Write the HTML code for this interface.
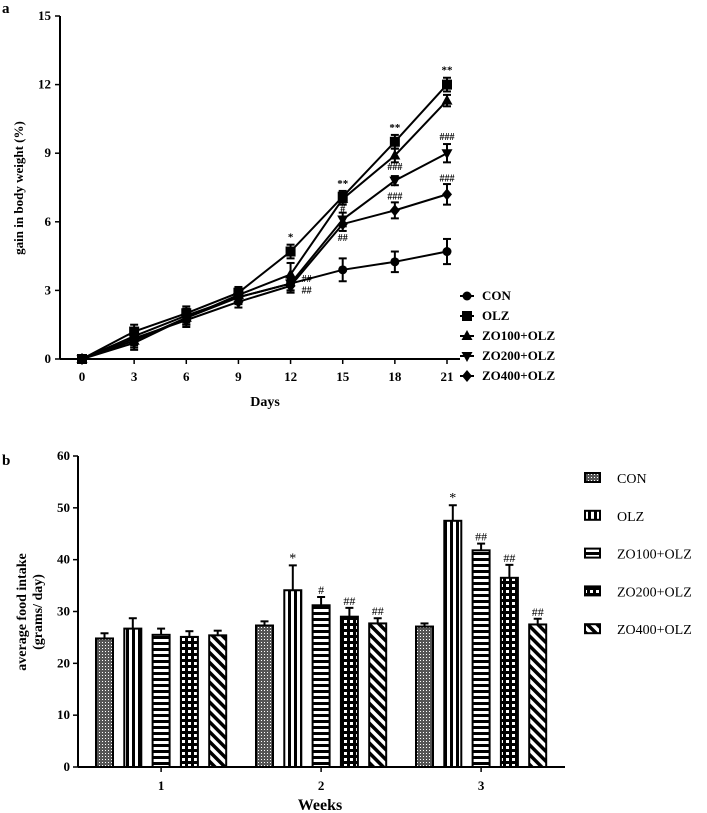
<!DOCTYPE html>
<html><head><meta charset="utf-8"><style>
html,body{margin:0;padding:0;background:#fff}
svg{display:block;font-family:"Liberation Serif",serif;font-weight:bold}
</style></head><body>
<svg id="fig" width="707" height="813" viewBox="0 0 707 813" xmlns="http://www.w3.org/2000/svg">
<defs>
<pattern id="pDot" width="3" height="3" patternUnits="userSpaceOnUse"><rect width="3" height="3" fill="#555"/><rect width="1" height="1" fill="#fff"/></pattern>
<pattern id="pVert" width="6" height="6" patternUnits="userSpaceOnUse"><rect width="6" height="6" fill="#fff"/><rect x="0" width="3" height="6" fill="#000"/></pattern>
<pattern id="pHor" width="6" height="6" patternUnits="userSpaceOnUse"><rect width="6" height="6" fill="#fff"/><rect y="0" width="6" height="3" fill="#000"/></pattern>
<pattern id="pGrid" width="6" height="6" patternUnits="userSpaceOnUse"><rect width="6" height="6" fill="#000"/><rect x="2" y="2" width="3" height="3" fill="#fff"/></pattern>
<pattern id="pDiag" width="7" height="7" patternUnits="userSpaceOnUse" patternTransform="rotate(-45)"><rect width="7" height="7" fill="#fff"/><rect width="3.5" height="7" fill="#000"/></pattern>
</defs>
<text x="2" y="13" font-size="15">a</text>
<text x="2" y="465" font-size="15">b</text>
<g id="topPanel"></g>
<g id="botPanel"></g>
</svg>
<script>
const NS="http://www.w3.org/2000/svg";
function mk(parent,tag,attrs,txt){const e=document.createElementNS(NS,tag);for(const k in attrs)e.setAttribute(k,attrs[k]);if(txt!==undefined)e.textContent=txt;parent.appendChild(e);return e;}

// ---- Panel a data ----
const days=[0,3,6,9,12,15,18,21];
const seriesNames=["CON","OLZ","ZO100+OLZ","ZO200+OLZ","ZO400+OLZ"];
const conVals=[0,1.0,1.9,2.7,3.3,3.9,4.25,4.7];
const olzVals=[0,1.2,2.0,2.9,4.7,7.1,9.5,12.0];
const zo100Vals=[0,0.8,1.8,2.8,3.7,7.0,8.9,11.3];
const zo200Vals=[0,0.7,1.8,2.7,3.3,6.1,7.8,9.0];
const zo400Vals=[0,0.9,1.7,2.5,3.2,5.9,6.5,7.2];
const conErr=[0.1,0.3,0.3,0.3,0.3,0.5,0.45,0.55];
const olzErr=[0.1,0.3,0.3,0.25,0.3,0.25,0.3,0.3];
const zo100Err=[0.1,0.3,0.3,0.25,0.5,0.25,0.3,0.25];
const zo200Err=[0.1,0.3,0.3,0.25,0.3,0.3,0.2,0.4];
const zo400Err=[0.1,0.3,0.3,0.25,0.3,0.3,0.35,0.45];
const yTicksA=[0,3,6,9,12,15];
const annA=[["*",12,olzVals,olzErr],["**",15,olzVals,olzErr],["**",18,olzVals,olzErr],["**",21,olzVals,olzErr]];

const xA=d=>82+d*(365/21);
const yA=v=>359-v*(343/15);
const gTop=document.getElementById('topPanel');
let ax=mk(gTop,'line',{x1:60,y1:16,x2:60,y2:359,stroke:'#000','stroke-width':2});

ax=mk(gTop,'line',{x1:60,y1:359,x2:460,y2:359,stroke:'#000','stroke-width':2});

yTicksA.forEach(t=>{mk(gTop,'line',{x1:55,x2:60,y1:yA(t),y2:yA(t),stroke:'#000','stroke-width':1.5});
 const l=mk(gTop,'text',{x:51,y:yA(t)+4,'font-size':13,'text-anchor':'end'},t);
 });
days.forEach(d=>{mk(gTop,'line',{x1:xA(d),x2:xA(d),y1:359,y2:364,stroke:'#000','stroke-width':1.5});
 const l=mk(gTop,'text',{x:xA(d),y:381,'font-size':13,'text-anchor':'middle'},d);
 });
let tt=mk(gTop,'text',{x:265,y:406,'font-size':14,'text-anchor':'middle'},'Days');

tt=mk(gTop,'text',{x:0,y:0,'font-size':13,'text-anchor':'middle',transform:'translate(23,188) rotate(-90)'},'gain in body weight (%)');


function marker(g,type,x,y){
 const s=5;
 if(type==='circle')return mk(g,'circle',{cx:x,cy:y,r:4.5});
 if(type==='square')return mk(g,'rect',{x:x-s,y:y-s,width:2*s,height:2*s});
 if(type==='up')return mk(g,'polygon',{points:`${x},${y-6} ${x-5.5},${y+4} ${x+5.5},${y+4}`});
 if(type==='down')return mk(g,'polygon',{points:`${x},${y+6} ${x-5.5},${y-4} ${x+5.5},${y-4}`});
 return mk(g,'polygon',{points:`${x},${y-6} ${x+5},${y} ${x},${y+6} ${x-5},${y}`});
}
const allVals=[conVals,olzVals,zo100Vals,zo200Vals,zo400Vals];
const allErr=[conErr,olzErr,zo100Err,zo200Err,zo400Err];
const mTypes=['circle','square','up','down','diamond'];
allVals.forEach((vals,si)=>{
 const g=mk(gTop,'g',{fill:'#000'});
 
 
 mk(g,'polyline',{points:vals.map((v,i)=>xA(days[i])+','+yA(v)).join(' '),fill:'none',stroke:'#000','stroke-width':2});
 vals.forEach((v,i)=>{const x=xA(days[i]),e=allErr[si][i];
  mk(g,'line',{x1:x,x2:x,y1:yA(v-e),y2:yA(v+e),stroke:'#000','stroke-width':2});
  mk(g,'line',{x1:x-4,x2:x+4,y1:yA(v-e),y2:yA(v-e),stroke:'#000','stroke-width':2});
  mk(g,'line',{x1:x-4,x2:x+4,y1:yA(v+e),y2:yA(v+e),stroke:'#000','stroke-width':2});
  const m=marker(g,mTypes[si],x,yA(v));
  
  
 });
});
annA.forEach(a=>{const i=days.indexOf(a[1]);const l=mk(gTop,'text',{x:xA(a[1]),y:yA(a[2][i]+a[3][i])-4,'font-size':11,'text-anchor':'middle'},a[0]);
 
 });
const hashA=[["#",15,6.55,0],["##",15,5.3,0],["###",18,8.4,0],["###",18,7.1,0],["###",21,9.7,0],["###",21,7.9,0],["##",12,3.5,1],["##",12,3.0,1]];
hashA.forEach(a=>{const l=mk(gTop,'text',{x:xA(a[1])+(a[3]?16:0),y:yA(a[2])+3,'font-size':10,'text-anchor':'middle'},a[0]);
 
 });
seriesNames.forEach((n,i)=>{const y=296+i*20;
 const g=mk(gTop,'g',{fill:'#000'});
 
 
 mk(g,'line',{x1:460,x2:474,y1:y,y2:y,stroke:'#000','stroke-width':2});
 marker(g,mTypes[i],467,y);
 mk(g,'text',{x:482,y:y+4,'font-size':13},n);
});

// ---- Panel b data ----
const weeks=["1","2","3"];
const conB=[24.8,27.3,27.1];
const olzB=[26.7,34.1,47.5];
const zo100B=[25.5,31.2,41.8];
const zo200B=[25.1,29.0,36.5];
const zo400B=[25.4,27.7,27.5];
const conBErr=[1.0,0.8,0.6];
const olzBErr=[2.0,4.8,3.0];
const zo100BErr=[1.2,1.6,1.3];
const zo200BErr=[1.1,1.7,2.5];
const zo400BErr=[0.9,1.0,1.1];
const annB=[["","","","",""],["","*","#","##","##"],["","*","##","##","##"]];
const yTicksB=[0,10,20,30,40,50,60];

const yB=v=>767-v*(311/60);
const groupX=i=>96+i*160;
const barX=(gi,si)=>groupX(gi)+si*28.3;
const gBot=document.getElementById('botPanel');
ax=mk(gBot,'line',{x1:78,y1:456,x2:78,y2:767,stroke:'#000','stroke-width':2});

ax=mk(gBot,'line',{x1:78,y1:767,x2:565,y2:767,stroke:'#000','stroke-width':2});

yTicksB.forEach(v=>{mk(gBot,'line',{x1:73,x2:78,y1:yB(v),y2:yB(v),stroke:'#000','stroke-width':1.5});
 const l=mk(gBot,'text',{x:70,y:yB(v)+4,'font-size':13,'text-anchor':'end'},v);
 
 });
weeks.forEach((w,i)=>{const cx=groupX(i)+8.5+2*28.3;
 mk(gBot,'line',{x1:cx,x2:cx,y1:767,y2:772,stroke:'#000','stroke-width':1.5});
 const l=mk(gBot,'text',{x:cx,y:790,'font-size':13,'text-anchor':'middle'},w);
 
 });
tt=mk(gBot,'text',{x:320,y:810,'font-size':16,'text-anchor':'middle'},'Weeks');

tt=mk(gBot,'text',{x:0,y:0,'font-size':14,'text-anchor':'middle',transform:'translate(26,612) rotate(-90)'},'average food intake');

tt=mk(gBot,'text',{x:0,y:0,'font-size':14,'text-anchor':'middle',transform:'translate(42,612) rotate(-90)'},'(grams/ day)');

const bVals=[conB,olzB,zo100B,zo200B,zo400B];
const bErr=[conBErr,olzBErr,zo100BErr,zo200BErr,zo400BErr];
const fills=['url(#pDot)','url(#pVert)','url(#pHor)','url(#pGrid)','url(#pDiag)'];
bVals.forEach((vals,si)=>{vals.forEach((v,gi)=>{
 const x=barX(gi,si),w=17,e=bErr[si][gi];
 mk(gBot,'line',{x1:x+w/2,x2:x+w/2,y1:yB(v),y2:yB(v+e),stroke:'#000','stroke-width':2});
 mk(gBot,'line',{x1:x+w/2-4,x2:x+w/2+4,y1:yB(v+e),y2:yB(v+e),stroke:'#000','stroke-width':2});
 const r=mk(gBot,'rect',{x:x,y:yB(v),width:w,height:767-yB(v),fill:fills[si],stroke:'#000','stroke-width':2});
 
 
 const a=annB[gi][si];
 if(a){const l=mk(gBot,'text',{x:x+w/2,y:yB(v+e)-3,'font-size':a==='*'?14:12,'text-anchor':'middle','font-weight':'normal'},a);
  
  }
});});
seriesNames.forEach((n,i)=>{const y=478+i*37.8;
 const g=mk(gBot,'g',{});
 
 
 mk(g,'rect',{x:585,y:y-5,width:15,height:9,fill:fills[i],stroke:'#000','stroke-width':2});
 mk(g,'text',{x:617,y:y+5,'font-size':14,'font-weight':'normal'},n);
});
</script>
</body></html>
